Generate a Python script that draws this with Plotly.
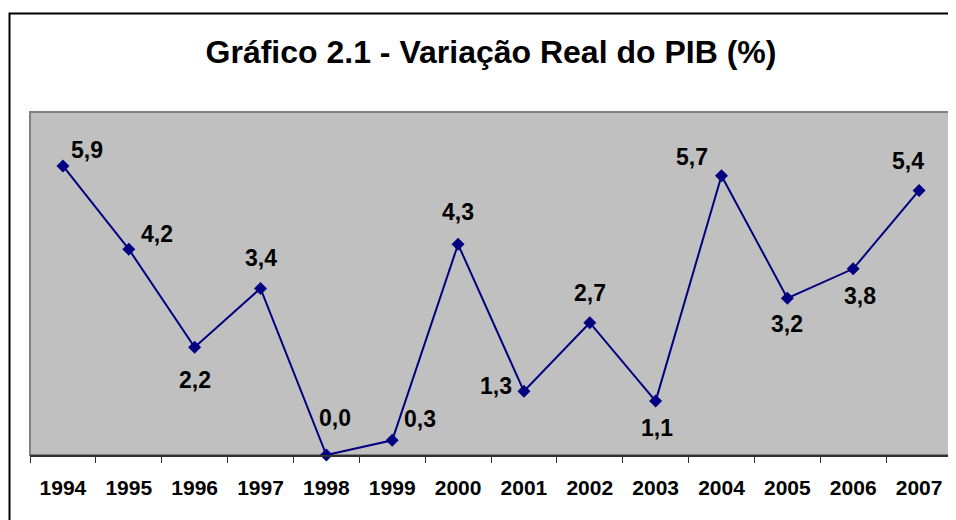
import plotly.graph_objects as go

years = ["1994", "1995", "1996", "1997", "1998", "1999", "2000",
         "2001", "2002", "2003", "2004", "2005", "2006", "2007"]
pib = [5.9, 4.2, 2.2, 3.4, 0.0, 0.3, 4.3, 1.3, 2.7, 1.1, 5.7, 3.2, 3.8, 5.4]
title_text = "Gráfico 2.1 - Variação Real do PIB (%)"

# label offsets in pixels (dx right, dy up) relative to each point
label_dx = [24, 28, 0, 0, 9, 28, 0, -28, 0, 1, -30, 0, 7, -11]
label_dy = [16, 15, -33, 30, 37, 21, 32, 5, 30, -27, 19, -26, -27, 29]

FONT = "Arial, Liberation Sans, sans-serif"
idx = list(range(len(years)))

fig = go.Figure()
fig.add_trace(go.Scatter(
    x=idx, y=pib, mode="lines+markers",
    line=dict(color="#000080", width=2),
    marker=dict(symbol="diamond", size=10, color="#000080"),
    cliponaxis=False, hoverinfo="skip", showlegend=False,
))

for i, v, dx, dy in zip(idx, pib, label_dx, label_dy):
    fig.add_annotation(
        x=i, y=v, xref="x", yref="y",
        text=f"<b>{v:.1f}</b>".replace(".", ","),
        showarrow=False, xanchor="center", yanchor="middle",
        xshift=dx, yshift=dy,
        font=dict(family=FONT, size=23, color="black"),
    )

W, H = 948, 512
L, R, T, B = 22, 4, 104, 65
pw, ph = W - L - R, H - T - B

# outer chart border (at page px ~ (9,13), page offset 8px)
fig.add_shape(type="rect", xref="paper", yref="paper",
              x0=(1.5 - L) / pw, x1=1.2, y0=(H - B - 5.5) / ph, y1=-0.5,
              line=dict(color="black", width=2), layer="above")
# plot area border
fig.add_shape(type="rect", xref="paper", yref="paper",
              x0=0, x1=1, y0=0, y1=1,
              line=dict(color="#808080", width=2), layer="below")

boundaries = [i - 0.5 for i in range(len(years) + 1)]

fig.update_layout(
    width=W, height=H,
    margin=dict(l=L, r=R, t=T, b=B, autoexpand=False),
    paper_bgcolor="white", plot_bgcolor="#C0C0C0",
    title=dict(text=f"<b>{title_text}</b>", x=0.5, xref="paper",
               y=1 - 44 / H, yref="container", yanchor="middle", xanchor="center",
               font=dict(family=FONT, size=32, color="black")),
    xaxis=dict(range=[-0.5, len(years) - 0.5], showgrid=False, showline=True,
               linecolor="#303030", linewidth=2,
               tickmode="array", tickvals=idx,
               ticktext=[f"<b>{y}</b>" for y in years],
               ticks="", ticklabelstandoff=13,
               tickfont=dict(family=FONT, size=21, color="black"),
               minor=dict(tickmode="array", tickvals=boundaries, ticks="outside",
                          ticklen=6, tickcolor="#303030", tickwidth=1, showgrid=False),
               zeroline=False, fixedrange=True),
    yaxis=dict(range=[0, 7], visible=False, showgrid=False, zeroline=False),
)

fig.write_html("out.html")
